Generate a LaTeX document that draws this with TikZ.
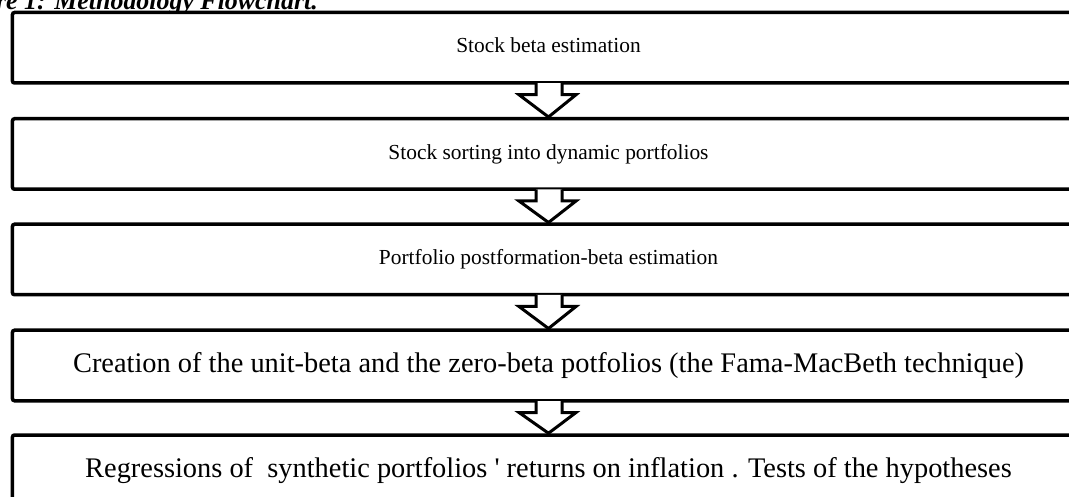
\documentclass[tikz,border=0pt]{standalone}
\usepackage{fontspec}
\setmainfont{Liberation Serif}
\usetikzlibrary{calc}

\tikzset{
  stepbox/.style={draw=black, line width=3.5bp, rounded corners=2bp, fill=white,
    minimum width=1072bp, minimum height=70.5bp, inner sep=0pt,
    font=\fontsize{21.5}{26}\selectfont},
  bigtext/.style={font=\fontsize{28.5}{32}\selectfont},
  flowarrow/.style={draw=black, fill=white, line width=3bp, line join=miter},
  caption/.style={font=\fontsize{26}{30}\selectfont\bfseries\itshape, inner sep=0pt}
}

% block arrow from the bottom of box #1 to the top of box #2
\newcommand{\blockarrow}[2]{%
  \filldraw[flowarrow]
    ($(#1.south)+(-12.5,-1.5)$) -- ($(#1.south)+(-12.5,10)$) --
    ($(#1.south)+(-29.5,10)$) -- (#2.north) --
    ($(#1.south)+(27.5,10)$) -- ($(#1.south)+(13.5,10)$) --
    ($(#1.south)+(13.5,-1.5)$);
}

\begin{document}
\begin{tikzpicture}[x=1bp, y=-1bp]
  \useasboundingbox (0,0) rectangle (1069,497);
  \clip (0,0) rectangle (1069,497);
  \fill[white] (0,0) rectangle (1069,497);

  \node[caption, anchor=base east] (cap) at (318,10) {Figure 1: Methodology Flowchart.};

  \node[stepbox] (b1) at (548.5,47.75) {\raisebox{6bp}{Stock beta estimation}};
  \node[stepbox] (b2) at (548.5,154) {Stock sorting into dynamic portfolios};
  \node[stepbox] (b3) at (548.5,259.5) {Portfolio postformation-beta estimation};
  \node[stepbox, bigtext] (b4) at (548.5,365.5) {Creation of the unit-beta and the zero-beta potfolios (the Fama-MacBeth technique)};
  \node[stepbox, bigtext] (b5) at (548.5,470.25) {Regressions of\ \ synthetic portfolios \textquotesingle{} returns on inflation . Tests of the hypotheses};

  \blockarrow{b1}{b2}
  \blockarrow{b2}{b3}
  \blockarrow{b3}{b4}
  \blockarrow{b4}{b5}
\end{tikzpicture}
\end{document}
